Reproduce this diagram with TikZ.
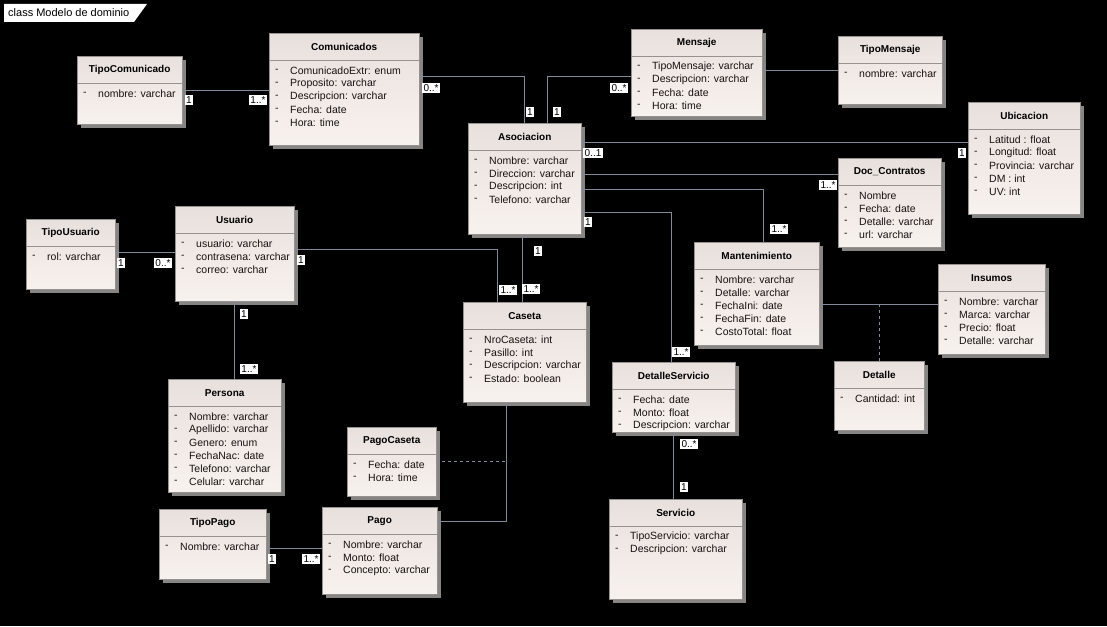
\documentclass[tikz,border=0pt]{standalone}
\usepackage{fontspec}
\setmainfont{Liberation Sans}
\usetikzlibrary{shadows}

\definecolor{linegray}{RGB}{128,138,152}
\definecolor{boxborder}{RGB}{150,146,146}
\definecolor{boxtop}{RGB}{232,224,220}
\definecolor{boxbottom}{RGB}{248,242,238}
\definecolor{shadowgray}{RGB}{135,132,132}
\definecolor{attrtext}{RGB}{24,18,18}

\newcommand{\umlclass}[7]{%
  \node[classbox, minimum width=#4pt, minimum height=#5pt] (#1) at (#2,#3) {};
  \node[classtitle] (#1-title) at ([yshift=-14pt]#1.north) {#6};
  \draw[sepline] ([yshift=-27pt]#1.north west) -- ([yshift=-27pt]#1.north east);
  \foreach \a [count=\i] in {#7} {
    \node[attr] (#1-dash\i) at ([xshift=6pt,yshift={-(24.5+13*\i)*1pt}]#1.north west) {-};
    \node[attr] (#1-attr\i) at ([xshift=21pt,yshift={-(24.5+13*\i)*1pt}]#1.north west) {\a};
  }%
}

\begin{document}
\begin{tikzpicture}[x=1pt, y=-1pt,
  classbox/.style={rectangle, draw=boxborder, anchor=north west, inner sep=0pt,
    top color=boxtop, bottom color=boxbottom,
    drop shadow={shadow xshift=4pt, shadow yshift=-4pt, fill=shadowgray, opacity=1}},
  classtitle/.style={inner sep=0pt, font=\bfseries\fontsize{10}{12}\selectfont},
  sepline/.style={draw=boxborder},
  attr/.style={anchor=west, inner sep=0pt, text=attrtext, font=\fontsize{10.5}{12}\selectfont},
  assoc/.style={draw=linegray, line width=0.8pt},
  mult/.style={fill=white, text=black, inner sep=1.5pt, font=\fontsize{10}{10}\selectfont}]

\fill[black] (0,0) rectangle (1107,626);
\useasboundingbox (0,0) rectangle (1107,626);
\fill[white] (4,4) -- (147,4) -- (134,22) -- (4,22) -- cycle;
\node[anchor=west, inner sep=0pt, font=\fontsize{11}{13}\selectfont] (frametitle) at (8,13) {class Modelo de dominio};

\umlclass{tipocomunicado}{77}{56}{105}{68}{TipoComunicado}{nombre: varchar}
\umlclass{comunicados}{269}{33}{150}{112}{Comunicados}{ComunicadoExtr: enum, Proposito: varchar, Descripcion: varchar, Fecha: date, Hora: time}
\umlclass{asociacion}{468}{123}{113}{111}{Asociacion}{Nombre: varchar, Direccion: varchar, Descripcion: int, Telefono: varchar}
\umlclass{mensaje}{631}{29}{131}{87}{Mensaje}{TipoMensaje: varchar, Descripcion: varchar, Fecha: date, Hora: time}
\umlclass{tipomensaje}{838}{36}{104}{68}{TipoMensaje}{nombre: varchar}
\umlclass{ubicacion}{968}{102}{112}{112}{Ubicacion}{Latitud : float, Longitud: float, Provincia: varchar, DM : int, UV: int}
\umlclass{doccontratos}{838}{158}{103}{89}{Doc\_Contratos}{Nombre, Fecha: date, Detalle: varchar, url: varchar}
\umlclass{tipousuario}{26}{219}{89}{70}{TipoUsuario}{rol: varchar}
\umlclass{usuario}{175}{206}{119}{95}{Usuario}{usuario: varchar, contrasena: varchar, correo: varchar}
\umlclass{mantenimiento}{694}{242}{125}{103}{Mantenimiento}{Nombre: varchar, Detalle: varchar, FechaIni: date, FechaFin: date, CostoTotal: float}
\umlclass{insumos}{938}{264}{107}{90}{Insumos}{Nombre: varchar, Marca: varchar, Precio: float, Detalle: varchar}
\umlclass{caseta}{463}{302}{123}{100}{Caseta}{NroCaseta: int, Pasillo: int, Descripcion: varchar, Estado: boolean}
\umlclass{detalleservicio}{612}{362}{123}{70}{DetalleServicio}{Fecha: date, Monto: float, Descripcion: varchar}
\umlclass{detalle}{834}{361}{90}{69}{Detalle}{Cantidad: int}
\umlclass{persona}{168}{379}{113}{113}{Persona}{Nombre: varchar, Apellido: varchar, Genero: enum, FechaNac: date, Telefono: varchar, Celular: varchar}
\umlclass{pagocaseta}{347}{427}{89}{69}{PagoCaseta}{Fecha: date, Hora: time}
\umlclass{tipopago}{159}{509}{107}{70}{TipoPago}{Nombre: varchar}
\umlclass{pago}{322}{507}{115}{87}{Pago}{Nombre: varchar, Monto: float, Concepto: varchar}
\umlclass{servicio}{609}{499}{133}{100}{Servicio}{TipoServicio: varchar, Descripcion: varchar}

\coordinate (insumoslink) at ([yshift=-40pt]insumos.north west);
\coordinate (casetalink) at ([xshift=43pt]caseta.south west);

\draw[assoc] (tipocomunicado.east) -- (tipocomunicado.east -| comunicados.west);
\draw[assoc] ([yshift=-43pt]comunicados.north east) -| ([xshift=56pt]asociacion.north west);
\draw[assoc] ([xshift=79pt]asociacion.north west) |- ([yshift=-47pt]mensaje.north west);
\draw[assoc] (tipomensaje.west) -- (tipomensaje.west -| mensaje.east);
\draw[assoc] ([yshift=-19pt]asociacion.north east) -- ([yshift=-40pt]ubicacion.north west);
\draw[assoc] ([yshift=-51pt]asociacion.north east) -- ([yshift=-16pt]doccontratos.north west);
\draw[assoc] ([yshift=-66pt]asociacion.north east) -| ([xshift=69pt]mantenimiento.north west);
\draw[assoc] ([yshift=-89pt]asociacion.north east) -| ([xshift=59pt]detalleservicio.north west);
\draw[assoc] ([xshift=54pt]asociacion.south west) -- ([xshift=59pt]caseta.north west);
\draw[assoc] ([yshift=-43pt]usuario.north east) -| ([xshift=34pt]caseta.north west);
\draw[assoc] ([yshift=-33pt]tipousuario.north east) -- ([yshift=-46pt]usuario.north west);
\draw[assoc] (usuario.south) -- (usuario.south |- persona.north);
\draw[assoc] ([yshift=-62pt]mantenimiento.north east) -- (insumoslink);
\draw[assoc, dashed] (detalle.north) -- (detalle.north |- insumoslink);
\draw[assoc] (detalleservicio.south) -- (detalleservicio.south |- servicio.north);
\draw[assoc] (casetalink) |- ([yshift=-14pt]pago.north east);
\draw[assoc, dashed] (pagocaseta.east) -- (pagocaseta.east -| casetalink);
\draw[assoc] ([yshift=-39pt]tipopago.north east) -- ([yshift=-41pt]pago.north west);

\node[mult] (m-tc1) at (189,100) {1};
\node[mult] (m-tc2) at (258,100) {1..*};
\node[mult] (m-co1) at (431,88) {0..*};
\node[mult] (m-co2) at (530,112) {1};
\node[mult] (m-me1) at (557,112) {1};
\node[mult] (m-me2) at (619,88) {0..*};
\node[mult] (m-ub1) at (593,153) {0..1};
\node[mult] (m-ub2) at (962,153) {1};
\node[mult] (m-dc2) at (828,185) {1..*};
\node[mult] (m-ma2) at (779,229) {1..*};
\node[mult] (m-ds1) at (588,222) {1};
\node[mult] (m-ds2) at (681,352) {1..*};
\node[mult] (m-ca1) at (538,251) {1};
\node[mult] (m-ca2) at (531,289) {1..*};
\node[mult] (m-uc1) at (301,260) {1};
\node[mult] (m-uc2) at (508,290) {1..*};
\node[mult] (m-tu1) at (121,263) {1};
\node[mult] (m-tu2) at (163,263) {0..*};
\node[mult] (m-pe1) at (244,314) {1};
\node[mult] (m-pe2) at (249,369) {1..*};
\node[mult] (m-se1) at (689,444) {0..*};
\node[mult] (m-se2) at (684,487) {1};
\node[mult] (m-tp1) at (272,559) {1};
\node[mult] (m-tp2) at (311,559) {1..*};
\end{tikzpicture}
\end{document}
